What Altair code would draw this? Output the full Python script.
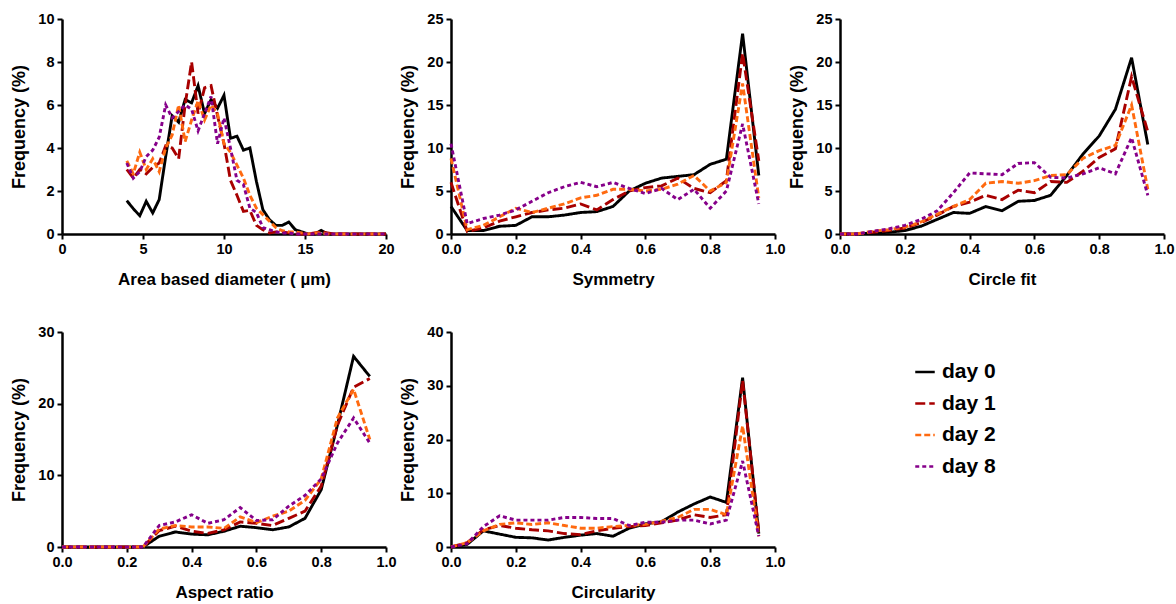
import altair as alt
import pandas as pd

days = ["day 0", "day 1", "day 2", "day 8"]
colors = ["#000000", "#A80000", "#FF6A10", "#86008A"]
dashes = [[1, 0], [10, 4], [6, 3], [4, 3]]

# ---- Area based diameter (µm): x from 4.0 to 20.0 step 0.4
diam_x = [round(4.0 + 0.4 * i, 1) for i in range(41)]
diam_d0 = [1.55, 1.18, 0.85, 1.52, 0.98, 1.6, 3.6, 5.5, 5.2, 6.25, 6.1, 6.9, 5.6, 6.25, 5.85, 6.45,
           4.45, 4.55, 3.9, 4.0, 2.45, 1.13, 0.67, 0.4, 0.4, 0.56, 0.2, 0.1, 0.0, 0.0, 0.17, 0.0,
           0.0, 0.0, 0.0, 0.0, 0.0, 0.0, 0.0, 0.0, 0.0]
diam_d1 = [3.0, 2.6, 3.0, 2.8, 3.1, 3.3, 4.1, 4.0, 3.5, 6.0, 8.0, 5.6, 6.8, 6.9, 5.5, 4.2,
           2.5, 1.8, 1.05, 1.1, 0.4, 0.2, 0.05, 0.1, 0.1, 0.05, 0.0, 0.0, 0.0, 0.05, 0.1, 0.05,
           0.0, 0.0, 0.0, 0.0, 0.0, 0.0, 0.0, 0.0, 0.0]
diam_d2 = [3.4, 2.8, 3.8, 3.0, 3.5, 2.9, 4.0, 4.6, 6.0, 4.3, 5.3, 6.2, 5.3, 6.0, 5.6, 4.2,
           3.8, 3.2, 2.6, 1.8, 1.2, 0.9, 0.6, 0.3, 0.15, 0.1, 0.1, 0.05, 0.0, 0.05, 0.05, 0.0,
           0.0, 0.0, 0.0, 0.0, 0.0, 0.0, 0.0, 0.0, 0.0]
diam_d8 = [3.3, 2.6, 2.9, 3.6, 3.9, 4.5, 6.0, 5.4, 5.7, 6.0, 5.8, 4.8, 5.6, 6.4, 4.2, 5.4,
           4.0, 2.5, 2.3, 1.2, 1.0, 0.3, 0.2, 0.1, 0.05, 0.05, 0.0, 0.0, 0.0, 0.0, 0.0, 0.0,
           0.0, 0.0, 0.0, 0.0, 0.0, 0.0, 0.0, 0.0, 0.0]

# ---- shape descriptors: x from 0.00 to 0.95 step 0.05
shape_x = [round(0.05 * i, 2) for i in range(20)]

sym_d0 = [3.2, 0.4, 0.4, 0.9, 1.0, 2.0, 2.0, 2.2, 2.5, 2.6, 3.2, 5.0, 5.9, 6.5, 6.7, 6.9, 8.1, 8.7, 23.3, 6.8]
sym_d1 = [6.0, 0.3, 0.7, 1.5, 2.0, 2.5, 2.8, 3.0, 3.5, 2.8, 4.0, 5.0, 5.4, 5.6, 6.5, 5.3, 4.8, 6.2, 21.0, 8.5]
sym_d2 = [8.8, 0.5, 1.0, 2.0, 3.0, 2.5, 3.0, 3.5, 4.2, 4.5, 5.2, 5.2, 5.0, 5.2, 5.8, 6.8, 5.0, 6.0, 17.5, 4.2]
sym_d8 = [10.5, 1.2, 1.8, 2.2, 2.8, 3.8, 4.8, 5.5, 6.0, 5.5, 6.0, 5.3, 4.7, 5.3, 4.0, 5.2, 3.0, 5.0, 12.8, 3.5]

cf_d0 = [0.0, 0.0, 0.1, 0.2, 0.4, 0.9, 1.7, 2.5, 2.4, 3.2, 2.7, 3.8, 3.9, 4.5, 6.8, 9.3, 11.4, 14.5, 20.5, 10.4]
cf_d1 = [0.0, 0.0, 0.2, 0.4, 0.7, 1.3, 2.2, 3.2, 3.7, 4.5, 4.0, 5.1, 4.8, 6.1, 6.0, 7.3, 8.9, 9.9, 18.3, 11.9]
cf_d2 = [0.0, 0.0, 0.3, 0.5, 0.8, 1.4, 2.3, 3.2, 4.0, 5.9, 6.1, 5.9, 6.2, 6.8, 6.9, 8.8, 9.7, 10.3, 15.0, 5.2]
cf_d8 = [0.0, 0.0, 0.3, 0.6, 1.0, 1.7, 2.7, 4.8, 7.1, 7.0, 6.9, 8.2, 8.3, 6.6, 6.5, 7.0, 7.7, 7.0, 11.2, 4.5]

ar_d0 = [0.0, 0.0, 0.0, 0.0, 0.0, 0.0, 1.5, 2.1, 1.8, 1.7, 2.2, 2.9, 2.7, 2.4, 2.8, 4.0, 8.0, 17.0, 26.6, 23.8]
ar_d1 = [0.0, 0.0, 0.0, 0.0, 0.0, 0.0, 2.3, 2.9, 2.2, 1.9, 2.4, 3.5, 3.3, 3.0, 4.0, 5.0, 8.5, 17.0, 22.3, 23.5]
ar_d2 = [0.0, 0.0, 0.0, 0.0, 0.0, 0.0, 2.5, 3.0, 2.8, 2.8, 2.6, 4.2, 3.4, 4.3, 5.0, 6.5, 9.5, 18.0, 22.0, 15.0]
ar_d8 = [0.0, 0.0, 0.0, 0.0, 0.0, 0.0, 3.0, 3.5, 4.5, 3.3, 3.8, 5.5, 3.7, 3.8, 5.7, 7.2, 9.5, 14.5, 18.0, 14.5]

circ_d0 = [0.0, 0.5, 3.0, 2.4, 1.8, 1.7, 1.3, 1.8, 2.2, 2.5, 2.0, 3.5, 4.3, 4.7, 6.5, 8.0, 9.3, 8.3, 31.5, 2.5]
circ_d1 = [0.0, 0.8, 3.2, 4.0, 3.5, 3.2, 3.0, 2.5, 2.3, 3.0, 3.5, 3.8, 4.0, 4.5, 5.0, 6.0, 5.5, 6.0, 31.0, 2.8]
circ_d2 = [0.0, 0.8, 3.0, 4.2, 4.5, 4.2, 4.5, 4.0, 3.5, 3.5, 3.8, 4.0, 4.2, 4.8, 5.5, 7.0, 7.0, 6.0, 22.5, 2.0]
circ_d8 = [0.0, 0.6, 3.8, 5.8, 5.0, 5.0, 5.0, 5.5, 5.5, 5.3, 5.3, 4.0, 4.6, 4.6, 5.0, 5.0, 4.3, 5.0, 16.0, 2.0]

panels = {
    "diam": (diam_x, [diam_d0, diam_d1, diam_d2, diam_d8]),
    "sym": (shape_x, [sym_d0, sym_d1, sym_d2, sym_d8]),
    "cf": (shape_x, [cf_d0, cf_d1, cf_d2, cf_d8]),
    "ar": (shape_x, [ar_d0, ar_d1, ar_d2, ar_d8]),
    "circ": (shape_x, [circ_d0, circ_d1, circ_d2, circ_d8]),
}

rows = []
for key, (xs, series) in panels.items():
    for day, ys in zip(days, series):
        for xv, yv in zip(xs, ys):
            rows.append({"panel": key, "x": xv, "y": yv, "day": day})
df = pd.DataFrame(rows)

W, H = 324, 215
FONT = "Liberation Sans"


def panel(key, xtitle, xdom, xvals, xfmt, ydom, yvals):
    return alt.Chart(df[df.panel == key]).mark_line(strokeWidth=2.9).encode(
        x=alt.X("x:Q", title=xtitle,
                scale=alt.Scale(domain=xdom, nice=False, zero=False),
                axis=alt.Axis(values=xvals, format=xfmt)),
        y=alt.Y("y:Q", title="Frequency (%)",
                scale=alt.Scale(domain=ydom, nice=False),
                axis=alt.Axis(values=yvals, format="d")),
        color=alt.Color("day:N", scale=alt.Scale(domain=days, range=colors), title=None),
        strokeDash=alt.StrokeDash("day:N", scale=alt.Scale(domain=days, range=dashes), title=None),
        order=alt.Order("x:Q"),
    ).properties(width=W, height=H)


shape_ticks = [0.0, 0.2, 0.4, 0.6, 0.8, 1.0]
p1 = panel("diam", "Area based diameter ( \u00b5m)", [0, 20], [0, 5, 10, 15, 20], "d", [0, 10], [0, 2, 4, 6, 8, 10])
p2 = panel("sym", "Symmetry", [0, 1], shape_ticks, ".1f", [0, 25], [0, 5, 10, 15, 20, 25])
p3 = panel("cf", "Circle fit", [0, 1], shape_ticks, ".1f", [0, 25], [0, 5, 10, 15, 20, 25])
p4 = panel("ar", "Aspect ratio", [0, 1], shape_ticks, ".1f", [0, 30], [0, 10, 20, 30])
p5 = panel("circ", "Circularity", [0, 1], shape_ticks, ".1f", [0, 40], [0, 10, 20, 30, 40])

chart = alt.concat(p1, p2, p3, p4, p5, columns=3,
                   spacing={"row": 98, "column": 65}, bounds="flush").properties(
    padding={"left": 10, "top": 11, "right": 0, "bottom": 2},
    background="white",
).configure_view(stroke=None).configure_axis(
    grid=False,
    domainColor="black", domainWidth=2.5,
    tickColor="black", tickWidth=2, tickSize=5,
    labelFont=FONT, labelFontSize=14.5, labelFontWeight="bold", labelColor="black", labelPadding=3,
    labelFlush=False, labelOverlap=False,
    titleFont=FONT, titleFontWeight="bold", titleColor="black",
).configure_axisX(titlePadding=16, titleFontSize=17).configure_axisY(
    titlePadding=8, titleFontSize=18, minExtent=26, maxExtent=26
).configure_legend(
    orient="none", legendX=852, legendY=342,
    symbolType="stroke", symbolSize=380, symbolStrokeWidth=2.5,
    labelFont=FONT, labelFontSize=21, labelFontWeight="bold", labelColor="black",
    rowPadding=10.5, labelOffset=6,
)

chart.save("out.html", embed_options={"renderer": "svg", "actions": False})
